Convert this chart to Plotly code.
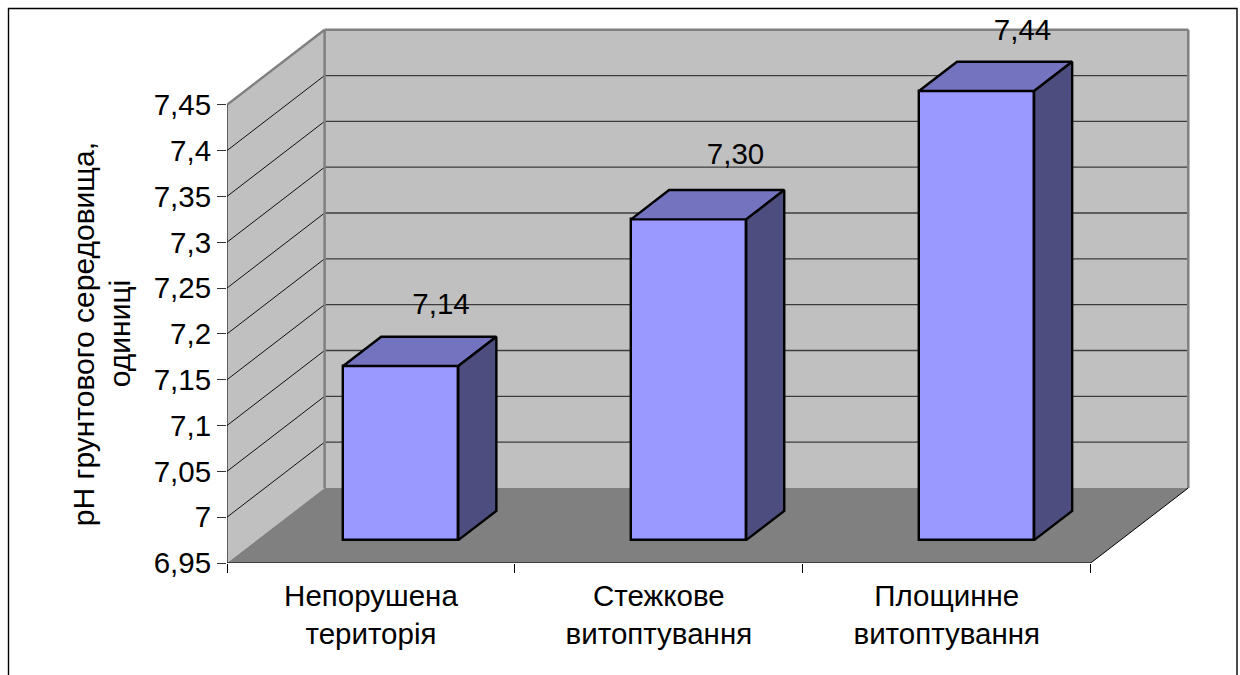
import plotly.graph_objects as go

# Chart data
categories = ["Непорушена<br>територія", "Стежкове<br>витоптування", "Площинне<br>витоптування"]
ph_values = [7.14, 7.30, 7.44]
y_ticks = [6.95, 7.0, 7.05, 7.1, 7.15, 7.2, 7.25, 7.3, 7.35, 7.4, 7.45]
y_tick_labels = ["6,95", "7", "7,05", "7,1", "7,15", "7,2", "7,25", "7,3", "7,35", "7,4", "7,45"]
y_title_lines = ["pH грунтового середовища,", "одиниці"]

# Oblique projection: one unit of depth moves a point right and up
PX_PER_CAT = 287.9
PX_PER_UNIT = 916.0
DEPTH_X = 97.6 / PX_PER_CAT
DEPTH_Y = 75.0 / PX_PER_UNIT
Y_MIN, Y_MAX = 6.95, 7.45
X_MAX = float(len(categories))
BAR_WIDTH = 0.4
BAR_D0, BAR_D1 = 0.305, 0.695

WIDTH, HEIGHT = 1240, 675
M_L, M_B, M_T = 227.0, 112.3, 15.0
M_R = 35.0
x_range = [0, (WIDTH - M_L - M_R) / PX_PER_CAT]
y_range = [Y_MIN, Y_MIN + (HEIGHT - M_B - M_T) / PX_PER_UNIT]

FONT = "Liberation Sans, Arial, sans-serif"
FONT_SIZE = 29.5
TITLE_SIZE = 30


def proj(x, y, d=0.0):
    return x + d * DEPTH_X, y + d * DEPTH_Y


def path(points):
    return "M " + " L ".join(f"{x:.5f} {y:.5f}" for x, y in points) + " Z"


def polygon(points, fill):
    return dict(type="path", xref="x", yref="y", layer="below", path=path(points),
                fillcolor=fill, line=dict(width=0))


def segment(p0, p1, color, width):
    return dict(type="line", xref="x", yref="y", layer="below",
                x0=p0[0], y0=p0[1], x1=p1[0], y1=p1[1],
                line=dict(color=color, width=width))


shapes = []

# Walls and floor of the box
shapes.append(polygon([proj(0, Y_MIN, 1), proj(X_MAX, Y_MIN, 1), proj(X_MAX, Y_MAX, 1), proj(0, Y_MAX, 1)], "#C0C0C0"))
shapes.append(polygon([proj(0, Y_MIN), proj(0, Y_MIN, 1), proj(0, Y_MAX, 1), proj(0, Y_MAX)], "#C0C0C0"))
shapes.append(polygon([proj(0, Y_MIN), proj(X_MAX, Y_MIN), proj(X_MAX, Y_MIN, 1), proj(0, Y_MIN, 1)], "#808080"))

# Gridlines run along the side wall and across the back wall
for v in y_ticks[1:-1]:
    shapes.append(segment(proj(0, v), proj(0, v, 1), "#111111", 1))
    shapes.append(segment(proj(0, v, 1), proj(X_MAX, v, 1), "#3C3C3C", 1.3))

# Wall outlines
shapes.append(segment(proj(0, Y_MAX), proj(0, Y_MAX, 1), "#808080", 2.5))
shapes.append(segment(proj(0, Y_MAX, 1), proj(X_MAX, Y_MAX, 1), "#808080", 2.5))
shapes.append(segment(proj(0, Y_MIN, 1), proj(0, Y_MAX, 1), "#808080", 2.5))
shapes.append(segment(proj(X_MAX, Y_MIN, 1), proj(X_MAX, Y_MAX, 1), "#808080", 2.5))

# Axis lines and the floor's right edge
shapes.append(segment(proj(0, Y_MIN), proj(0, Y_MAX), "#000000", 1))
shapes.append(segment(proj(0, Y_MIN), proj(X_MAX, Y_MIN), "#000000", 1.2))
shapes.append(segment(proj(X_MAX, Y_MIN), proj(X_MAX, Y_MIN, 1), "#000000", 1))

# Outer frame, expressed as fractions of the plot area; its lower edge runs off the page
plot_w = WIDTH - M_L - M_R
plot_h = HEIGHT - M_T - M_B
def fx(px):
    return (px - M_L) / plot_w
def fy(py):
    return (HEIGHT - M_B - py) / plot_h
shapes.append(dict(type="rect", xref="paper", yref="paper", layer="below",
                   x0=fx(8.5), x1=fx(1237), y0=fy(690), y1=fy(8.5),
                   line=dict(color="#000000", width=1.4), fillcolor="rgba(0,0,0,0)"))

# Axis title, one rotated annotation per line
annotations = [
    dict(text=line, xref="paper", yref="paper", x=fx(px), y=fy(334),
         xanchor="center", yanchor="middle", textangle=-90, showarrow=False,
         font=dict(family=FONT, size=TITLE_SIZE, color="#000000"))
    for line, px in zip(y_title_lines, (83, 119))
]

fig = go.Figure()

# Front faces
bar_x = [proj(i + 0.5, Y_MIN, BAR_D0)[0] for i in range(len(ph_values))]
bar_base = proj(0, Y_MIN, BAR_D0)[1]
fig.add_trace(go.Bar(
    x=bar_x,
    y=[v - Y_MIN for v in ph_values],
    base=bar_base,
    width=BAR_WIDTH,
    marker=dict(color="#9999FF", line=dict(color="#000000", width=2.4)),
))

# Top and side faces
for i, v in enumerate(ph_values):
    x0 = i + 0.5 - BAR_WIDTH / 2
    x1 = i + 0.5 + BAR_WIDTH / 2
    top = [proj(x0, v, BAR_D0), proj(x1, v, BAR_D0), proj(x1, v, BAR_D1), proj(x0, v, BAR_D1), proj(x0, v, BAR_D0)]
    side = [proj(x1, Y_MIN, BAR_D0), proj(x1, Y_MIN, BAR_D1), proj(x1, v, BAR_D1), proj(x1, v, BAR_D0), proj(x1, Y_MIN, BAR_D0)]
    for pts, fill in ((top, "#7373BF"), (side, "#4D4D80")):
        fig.add_trace(go.Scatter(
            x=[p[0] for p in pts], y=[p[1] for p in pts],
            mode="lines", fill="toself", fillcolor=fill,
            line=dict(color="#000000", width=2.4), cliponaxis=False,
        ))

# Value labels float above and behind each column
label_dx = [0.14, 0.163, 0.16]
label_dy = [0.0652, 0.068, 0.0635]
fig.add_trace(go.Scatter(
    x=[proj(i + 0.5, v, BAR_D0)[0] + dx for i, (v, dx) in enumerate(zip(ph_values, label_dx))],
    y=[proj(0, v, BAR_D0)[1] + dy for v, dy in zip(ph_values, label_dy)],
    mode="text",
    text=[f"{v:.2f}".replace(".", ",") for v in ph_values],
    textposition="middle center",
    textfont=dict(family=FONT, size=FONT_SIZE, color="#000000"),
    cliponaxis=False,
))

fig.update_layout(
    width=WIDTH, height=HEIGHT,
    margin=dict(l=M_L, r=M_R, t=M_T, b=M_B, pad=0),
    paper_bgcolor="#FFFFFF", plot_bgcolor="#FFFFFF",
    showlegend=False, hovermode=False, shapes=shapes, annotations=annotations, bargap=0,
    font=dict(family=FONT, size=FONT_SIZE, color="#000000"),
    xaxis=dict(
        range=x_range, showgrid=False, zeroline=False, showline=False,
        tickmode="array",
        tickvals=[i + 0.5 for i in range(len(categories))],
        ticktext=categories,
        ticks="", ticklabelstandoff=12,
        minor=dict(tickmode="array", tickvals=list(range(len(categories) + 1)),
                   ticks="outside", ticklen=9, tickcolor="#000000", tickwidth=1),
    ),
    yaxis=dict(
        range=y_range, showgrid=False, zeroline=False, showline=False,
        tickmode="array", tickvals=y_ticks, ticktext=y_tick_labels,
        ticks="outside", ticklen=9, tickcolor="#333333", tickwidth=1,
    ),
)

fig.write_html("out.html", config=dict(displayModeBar=False))
